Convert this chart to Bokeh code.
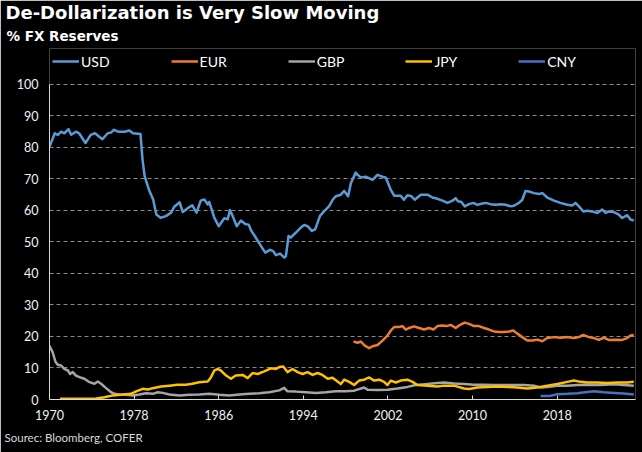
from bokeh.plotting import figure
from bokeh.models import Range1d, FixedTicker, Legend, LegendItem, Title
from bokeh.embed import file_html
from bokeh.resources import INLINE

# ---- data: share of global FX reserves (%) ----
usd_year = [1970.0, 1970.5, 1970.8, 1971.1, 1971.4, 1971.8, 1972.05, 1972.5, 1972.8, 1973.4,
            1973.9, 1974.3, 1975.0, 1975.5, 1975.8, 1976.1, 1976.5, 1977.1, 1977.55, 1977.9,
            1978.6, 1978.8, 1979.0, 1979.4, 1979.8, 1980.1, 1980.5, 1981.0, 1981.5, 1981.8,
            1982.3, 1982.6, 1983.1, 1983.5, 1983.9, 1984.3, 1984.64, 1984.96, 1985.1, 1985.58,
            1986.0, 1986.52, 1986.85, 1987.06, 1987.32, 1987.7, 1988.1, 1988.5, 1988.83, 1989.05,
            1989.5, 1990.0, 1990.4, 1990.84, 1991.15, 1991.4, 1991.8, 1992.2, 1992.35, 1992.6,
            1992.8, 1993.3, 1993.8, 1994.08, 1994.4, 1994.8, 1995.12, 1995.56, 1995.97, 1996.44,
            1996.8, 1997.07, 1997.54, 1997.86, 1998.23, 1998.49, 1998.95, 1999.12, 1999.43, 1999.9,
            2000.54, 2001.0, 2001.48, 2001.8, 2002.27, 2002.58, 2003.2, 2003.5, 2003.84, 2004.22,
            2004.53, 2005.1, 2005.73, 2006.2, 2006.68, 2007.15, 2007.62, 2008.1, 2008.4, 2008.62,
            2008.94, 2009.25, 2009.66, 2010.08, 2010.45, 2010.83, 2011.24, 2011.7, 2012.18, 2012.65,
            2013.12, 2013.6, 2013.9, 2014.38, 2014.7, 2015.0, 2015.33, 2015.8, 2016.27, 2016.6,
            2017.06, 2017.7, 2018.3, 2018.95, 2019.42, 2019.73, 2020.05, 2020.46, 2020.84, 2021.3,
            2021.8, 2022.26, 2022.57, 2022.88, 2023.35, 2023.82, 2024.14, 2024.62, 2024.93, 2025.24]
usd_share = [80.2, 84.5, 84.0, 85.0, 84.5, 85.8, 84.0, 85.0, 84.5, 81.4,
             84.0, 84.5, 82.6, 84.5, 84.7, 85.6, 85.0, 85.0, 85.4, 84.5,
             84.3, 76.0, 70.8, 66.6, 63.5, 58.7, 57.7, 58.2, 59.3, 61.2,
             62.6, 59.5, 60.8, 61.6, 59.3, 63.1, 63.5, 61.9, 62.7, 57.7,
             55.0, 57.5, 57.2, 60.1, 58.2, 55.0, 56.8, 55.7, 55.5, 53.7,
             51.4, 48.7, 46.6, 47.5, 47.1, 45.8, 46.3, 45.0, 45.5, 51.9,
             51.4, 53.0, 54.7, 55.4, 55.0, 53.5, 54.0, 58.2, 59.8, 61.4,
             63.5, 64.5, 65.0, 66.2, 64.5, 68.6, 72.0, 71.3, 70.5, 70.7,
             69.7, 71.3, 70.7, 70.4, 66.5, 64.7, 64.7, 63.4, 64.8, 64.5,
             63.4, 65.0, 65.0, 64.1, 63.7, 63.1, 62.4, 63.1, 63.9, 62.9,
             62.7, 61.3, 62.0, 62.4, 61.8, 62.1, 62.4, 62.0, 61.8, 62.0,
             61.8, 61.3, 61.5, 62.4, 63.4, 66.2, 66.0, 65.5, 65.2, 65.5,
             64.1, 63.1, 62.4, 61.8, 61.6, 62.4, 61.3, 59.7, 59.9, 59.7,
             59.2, 60.3, 59.2, 59.7, 59.5, 58.7, 57.6, 58.5, 57.1, 56.8]

eur_year = [1998.74, 1999.12, 1999.43, 1999.81, 2000.22, 2000.54, 2001.01, 2001.48, 2001.95, 2002.27,
            2002.58, 2003.05, 2003.37, 2003.68, 2004.0, 2004.47, 2004.94, 2005.41, 2005.88, 2006.3,
            2006.68, 2007.15, 2007.55, 2007.93, 2008.4, 2008.72, 2009.25, 2009.66, 2010.13, 2010.6,
            2011.08, 2011.55, 2012.02, 2012.49, 2012.97, 2013.44, 2013.85, 2014.23, 2014.7, 2015.17,
            2015.65, 2016.12, 2016.59, 2017.06, 2017.69, 2018.32, 2018.95, 2019.58, 2020.05, 2020.46,
            2020.99, 2021.46, 2021.93, 2022.41, 2022.88, 2023.51, 2024.14, 2024.62, 2024.93, 2025.24]
eur_share = [18.4, 18.0, 18.4, 17.1, 16.3, 16.9, 17.3, 18.7, 20.3, 21.9,
             23.0, 23.0, 23.3, 22.2, 22.7, 23.2, 22.7, 22.2, 22.7, 22.2,
             23.3, 23.5, 23.3, 23.7, 22.7, 23.5, 24.4, 24.0, 23.3, 23.3,
             22.7, 22.2, 21.6, 21.4, 21.4, 21.6, 21.9, 20.9, 19.8, 18.7,
             18.7, 19.0, 18.5, 19.5, 19.8, 19.6, 19.8, 19.5, 19.8, 20.5,
             19.8, 19.5, 18.9, 19.6, 18.9, 19.0, 18.9, 19.5, 20.3, 20.5]

gbp_year = [1970.0, 1970.3, 1970.57, 1970.8, 1971.1, 1971.4, 1971.74, 1971.95, 1972.2, 1972.5,
            1972.83, 1973.3, 1973.78, 1974.25, 1974.57, 1974.88, 1975.35, 1975.82, 1976.14, 1976.6,
            1977.3, 1977.88, 1978.5, 1979.13, 1979.76, 1980.24, 1980.7, 1981.33, 1982.28, 1983.22,
            1984.16, 1985.1, 1986.05, 1987.0, 1987.94, 1988.9, 1989.83, 1990.77, 1991.72, 1992.19,
            1992.5, 1993.3, 1994.24, 1995.18, 1996.13, 1997.07, 1998.0, 1998.8, 1999.75, 2000.07,
            2001.01, 2001.95, 2002.9, 2003.84, 2004.63, 2005.73, 2006.68, 2007.3, 2008.24, 2009.19,
            2010.13, 2011.08, 2012.02, 2012.97, 2013.91, 2014.85, 2015.8, 2016.43, 2017.06, 2018.01,
            2018.95, 2019.9, 2020.84, 2022.1, 2023.35, 2024.29, 2025.24]
gbp_share = [17.0, 15.0, 11.9, 11.0, 10.8, 9.7, 9.2, 8.1, 8.7, 7.6,
             7.1, 6.6, 5.5, 5.0, 5.7, 5.0, 3.6, 2.3, 1.8, 1.6,
             1.5, 1.3, 1.6, 2.0, 1.8, 2.3, 2.1, 1.6, 1.3, 1.5,
             1.6, 1.8, 1.5, 1.3, 1.6, 1.8, 2.0, 2.3, 2.9, 3.7,
             2.6, 2.5, 2.3, 2.1, 2.3, 2.6, 2.6, 2.8, 3.8, 3.1,
             3.0, 3.1, 3.5, 4.0, 4.6, 4.9, 5.2, 5.4, 5.1, 4.9,
             4.7, 4.7, 4.6, 4.6, 4.6, 4.6, 4.4, 3.8, 4.0, 4.4,
             4.4, 4.6, 4.7, 4.6, 4.8, 4.6, 4.4]

jpy_year = [1971.0, 1972.8, 1974.4, 1975.2, 1976.0, 1976.9, 1977.7, 1978.2, 1978.8, 1979.3,
            1979.76, 1980.55, 1981.33, 1982.1, 1982.9, 1983.5, 1984.16, 1984.96, 1985.27, 1985.58,
            1985.9, 1986.2, 1986.7, 1987.16, 1987.6, 1988.26, 1988.73, 1989.2, 1989.68, 1990.3,
            1990.94, 1991.4, 1991.72, 1992.1, 1992.5, 1992.98, 1993.46, 1993.93, 1994.4, 1994.87,
            1995.34, 1995.8, 1996.3, 1996.76, 1997.23, 1997.54, 1997.86, 1998.33, 1998.8, 1999.27,
            1999.75, 2000.22, 2000.69, 2001.16, 2001.63, 2001.95, 2002.27, 2002.74, 2003.21, 2003.84,
            2004.32, 2004.79, 2005.73, 2006.68, 2007.3, 2008.24, 2009.19, 2009.66, 2010.45, 2011.4,
            2012.34, 2013.29, 2014.23, 2015.17, 2016.12, 2017.06, 2018.01, 2018.95, 2019.58, 2020.21,
            2020.84, 2021.78, 2022.73, 2023.67, 2024.62, 2025.24]
jpy_share = [0.2, 0.2, 0.3, 0.7, 1.3, 1.6, 1.8, 2.6, 3.4, 3.2,
             3.6, 4.1, 4.4, 4.7, 4.7, 5.0, 5.5, 5.7, 7.1, 9.2,
             9.7, 9.2, 7.6, 6.6, 7.6, 7.8, 6.8, 8.4, 8.1, 8.9,
             9.9, 9.7, 10.3, 10.5, 8.7, 9.7, 8.7, 8.1, 8.7, 7.8,
             8.4, 7.8, 6.6, 6.9, 5.7, 4.9, 6.3, 5.6, 4.6, 6.0,
             6.3, 7.0, 6.0, 6.3, 5.6, 4.6, 6.0, 5.4, 6.0, 6.3,
             5.6, 4.6, 4.4, 4.1, 4.4, 4.4, 3.5, 3.3, 3.8, 4.0,
             4.1, 4.0, 3.8, 3.5, 3.8, 4.4, 4.9, 5.6, 6.0, 5.6,
             5.4, 5.4, 5.2, 5.4, 5.4, 5.6]

cny_year = [2016.43, 2016.9, 2017.37, 2018.01, 2018.95, 2019.9, 2020.84, 2021.46, 2022.41, 2023.35,
            2024.29, 2025.24]
cny_share = [1.1, 1.1, 1.2, 1.7, 1.8, 2.0, 2.4, 2.6, 2.3, 2.1,
             1.9, 1.6]

x_ticks = [1970, 1978, 1986, 1994, 2002, 2010, 2018]
x_tick_labels = ["1970", "1978", "1986", "1994", "2002", "2010", "2018"]
y_ticks = [0, 10, 20, 30, 40, 50, 60, 70, 80, 90, 100]
y_tick_labels = ["0", "10", "20", "30", "40", "50", "60", "70", "80", "90", "100"]

series = [
    ("USD", usd_year, usd_share, "#5B9BD5"),
    ("EUR", eur_year, eur_share, "#ED7D31"),
    ("GBP", gbp_year, gbp_share, "#A5A5A5"),
    ("JPY", jpy_year, jpy_share, "#FFC000"),
    ("CNY", cny_year, cny_share, "#4472C4"),
]

LABEL_FONT = "Lato"
HEAD_FONT = "DejaVu Sans"
TEXT_COLOR = "#f2f2f2"

# The plot area reaches up over the legend row; the value axis still stops at 100.
FRAME_TOP = 48
Y_TOP = 111.4

p = figure(width=642, height=452, output_backend="svg", toolbar_location=None,
           title="De-Dollarization is Very Slow Moving",
           x_range=Range1d(1970, 2025.4), y_range=Range1d(0, Y_TOP),
           min_border_left=49, min_border_right=7, min_border_top=FRAME_TOP,
           min_border_bottom=53,
           background_fill_color="black", border_fill_color="black",
           outline_line_color=None)

p.title.align = "left"
p.title.offset = -44
p.title.standoff = -4
p.title.text_font = HEAD_FONT
p.title.text_font_style = "bold"
p.title.text_font_size = "18px"
p.title.text_color = "white"

p.add_layout(Title(text="% FX Reserves", align="left", offset=-43, standoff=10,
                   text_font=HEAD_FONT, text_font_style="bold",
                   text_font_size="13.5px", text_color="white"), "above")

items = []
for name, xs, ys, color in series:
    r = p.line(xs, ys, line_color=color, line_width=2.5, line_join="round")
    items.append(LegendItem(label=name, renderers=[r]))

# axes
p.xaxis.ticker = FixedTicker(ticks=x_ticks)
p.xaxis.major_label_overrides = dict(zip(x_ticks, x_tick_labels))
p.xaxis.axis_line_color = "#d9d9d9"
p.xaxis.major_tick_line_color = "#d9d9d9"
p.xaxis.major_tick_in = 4
p.xaxis.major_tick_out = 0
p.xaxis.minor_tick_line_color = None
p.xaxis.major_label_standoff = 10

p.yaxis.ticker = FixedTicker(ticks=y_ticks)
p.yaxis.major_label_overrides = dict(zip(y_ticks, y_tick_labels))
p.yaxis.bounds = (0, 100)
p.yaxis.axis_line_color = "#d9d9d9"
p.yaxis.major_tick_line_color = None
p.yaxis.major_tick_in = 0
p.yaxis.major_tick_out = 0
p.yaxis.minor_tick_line_color = None
p.yaxis.major_label_standoff = 11

for ax in (p.xaxis, p.yaxis):
    ax.major_label_text_font = LABEL_FONT
    ax.major_label_text_font_size = "12.5px"
    ax.major_label_text_color = TEXT_COLOR

p.xgrid.grid_line_color = None
p.ygrid.ticker = FixedTicker(ticks=y_ticks[1:])
p.ygrid.grid_line_color = "#8a8a8a"
p.ygrid.grid_line_dash = "4 3"
p.ygrid.grid_line_width = 1

# legend row inside the upper strip of the plot area
legend = Legend(items=items, orientation="horizontal", location=(3, 328),
                padding=0, margin=0, spacing=61,
                glyph_width=27, glyph_height=20, label_height=20,
                label_standoff=2,
                label_text_font=LABEL_FONT, label_text_font_size="14px",
                label_text_color="white",
                border_line_color=None, background_fill_alpha=0)
p.add_layout(legend, "center")

# source note under the axis
p.add_layout(Title(text="Sourec: Bloomberg, COFER", align="left", offset=-45, standoff=12,
                   text_font=LABEL_FONT, text_font_style="normal",
                   text_font_size="11.5px", text_color="#d9d9d9"), "below")

open("out.html", "w").write(file_html(p, INLINE))
